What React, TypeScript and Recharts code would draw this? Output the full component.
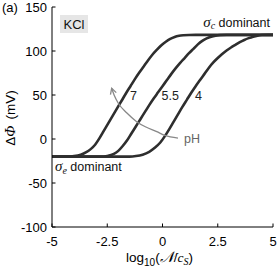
import React from 'react';
import { LineChart, Line, XAxis, YAxis } from 'recharts';

const xTicks = [-5, -2.5, 0, 2.5, 5];
const yTicks = [-100, -50, 0, 50, 100, 150];

// pH = 7 curve
const curvePH7 = [
  { x: -5, y: -20 }, { x: -4.3, y: -20 }, { x: -4.0, y: -19.4 }, { x: -3.7, y: -17.8 },
  { x: -3.45, y: -15 }, { x: -3.25, y: -11.5 }, { x: -3.05, y: -6.5 }, { x: -2.85, y: 1 },
  { x: -2.65, y: 9.5 }, { x: -2.45, y: 18 }, { x: -2.25, y: 26.5 }, { x: -2.05, y: 35 },
  { x: -1.85, y: 43.5 }, { x: -1.65, y: 52 }, { x: -1.45, y: 60 }, { x: -1.25, y: 68 },
  { x: -1.05, y: 75.5 }, { x: -0.85, y: 82.5 }, { x: -0.65, y: 89.5 }, { x: -0.45, y: 96 },
  { x: -0.25, y: 101.5 }, { x: -0.05, y: 106.5 }, { x: 0.15, y: 110.5 }, { x: 0.35, y: 113.7 },
  { x: 0.55, y: 116 }, { x: 0.75, y: 117.3 }, { x: 0.95, y: 117.9 }, { x: 1.2, y: 118.2 },
  { x: 1.5, y: 118.3 }, { x: 5, y: 118.3 },
];

// pH = 5.5 curve
const curvePH55 = [
  { x: -5, y: -20 }, { x: -2.8, y: -20 }, { x: -2.5, y: -19.3 }, { x: -2.2, y: -17 },
  { x: -2.0, y: -13.5 }, { x: -1.8, y: -8 }, { x: -1.6, y: -1.5 }, { x: -1.4, y: 6.5 },
  { x: -1.2, y: 14.5 }, { x: -1.0, y: 22.5 }, { x: -0.8, y: 30.5 }, { x: -0.6, y: 38.5 },
  { x: -0.4, y: 46 }, { x: -0.2, y: 53 }, { x: 0, y: 60 }, { x: 0.2, y: 67 },
  { x: 0.4, y: 74 }, { x: 0.6, y: 80.5 }, { x: 0.8, y: 86.5 }, { x: 1.0, y: 92 },
  { x: 1.2, y: 97.5 }, { x: 1.4, y: 102.5 }, { x: 1.6, y: 107.5 }, { x: 1.8, y: 111.5 },
  { x: 2.0, y: 114.3 }, { x: 2.2, y: 116.2 }, { x: 2.4, y: 117.4 }, { x: 2.6, y: 118 },
  { x: 2.9, y: 118.3 }, { x: 5, y: 118.3 },
];

// pH = 4 curve
const curvePH4 = [
  { x: -5, y: -20 }, { x: -1.5, y: -20 }, { x: -1.2, y: -19.4 }, { x: -0.9, y: -17.8 },
  { x: -0.6, y: -14.5 }, { x: -0.35, y: -10 }, { x: -0.1, y: -4 }, { x: 0.1, y: 3 },
  { x: 0.3, y: 11 }, { x: 0.5, y: 19.5 }, { x: 0.7, y: 28 }, { x: 0.9, y: 36.5 },
  { x: 1.1, y: 44.5 }, { x: 1.3, y: 52.5 }, { x: 1.5, y: 60 }, { x: 1.7, y: 67 },
  { x: 1.9, y: 74 }, { x: 2.1, y: 81 }, { x: 2.3, y: 87 }, { x: 2.5, y: 92 },
  { x: 2.7, y: 96.5 }, { x: 2.9, y: 100.5 }, { x: 3.1, y: 104 }, { x: 3.3, y: 107 },
  { x: 3.5, y: 110 }, { x: 3.7, y: 112.5 }, { x: 3.9, y: 114.6 }, { x: 4.1, y: 116.3 },
  { x: 4.3, y: 117.5 }, { x: 4.5, y: 118.1 }, { x: 4.8, y: 118.3 }, { x: 5, y: 118.3 },
];

// gray "pH" arrow path (tip first)
const arrowPH = [
  { x: -2.3, y: 57.6 }, { x: -2.19, y: 50 }, { x: -2.0, y: 40.6 }, { x: -1.61, y: 29.5 },
  { x: -1.17, y: 19.7 }, { x: -0.75, y: 13.6 }, { x: -0.26, y: 8.3 }, { x: 0.11, y: 4.0 },
  { x: 0.7, y: 1.1 },
];

const curveLabels = ['7', '5.5', '4'];

const FONT = '"Liberation Sans", Arial, Helvetica, sans-serif';
const SERIF = '"Liberation Serif", "DejaVu Serif", serif';

const BottomTick = (p: any) => (
  <g>
    <line x1={p.x} x2={p.x} y1={p.y} y2={p.y - 3.5} stroke="#000" strokeWidth={1} />
    <text x={p.x} y={p.y + 19} textAnchor="middle" fontSize={13} fontFamily={FONT} fill="#000">
      {p.payload.value}
    </text>
  </g>
);
const TopTick = (p: any) => (
  <line x1={p.x} x2={p.x} y1={p.y} y2={p.y + 3.5} stroke="#000" strokeWidth={1} />
);
const LeftTick = (p: any) => (
  <g>
    <line x1={p.x} x2={p.x + 3.5} y1={p.y} y2={p.y} stroke="#000" strokeWidth={1} />
    <text x={p.x - 5} y={p.y + 4.6} textAnchor="end" fontSize={13} fontFamily={FONT} fill="#000">
      {p.payload.value}
    </text>
  </g>
);
const RightTick = (p: any) => (
  <line x1={p.x} x2={p.x - 3.5} y1={p.y} y2={p.y} stroke="#000" strokeWidth={1} />
);

const ArrowDot = (p: any) => {
  if (p.index !== 0) return <g key={`ad${p.index}`} />;
  const { cx, cy } = p;
  return (
    <polyline
      key="arrowhead"
      points={`${cx - 1.2},${cy + 6.2} ${cx},${cy} ${cx + 4.6},${cy + 4.3}`}
      fill="none"
      stroke="#888"
      strokeWidth={1.3}
    />
  );
};

export default function App() {
  const lineStyle = { stroke: '#2e2e2e', strokeWidth: 2.6 };
  return (
    <div style={{ position: 'absolute', left: 0, top: 0, width: 277, height: 275, background: '#fff' }}>
      <LineChart width={277} height={275} margin={{ top: 7, right: 4, bottom: 0, left: 0 }}>
        <XAxis
          xAxisId="b"
          dataKey="x"
          type="number"
          domain={[-5, 5]}
          ticks={xTicks}
          interval={0}
          height={48}
          tickSize={0}
          tickMargin={0}
          tick={BottomTick}
          axisLine={{ stroke: '#000', strokeWidth: 1 }}
        />
        <XAxis
          xAxisId="t"
          orientation="top"
          dataKey="x"
          type="number"
          domain={[-5, 5]}
          ticks={xTicks}
          interval={0}
          height={0}
          tickSize={0}
          tickMargin={0}
          tick={TopTick}
          axisLine={{ stroke: '#000', strokeWidth: 1 }}
        />
        <YAxis
          yAxisId="l"
          type="number"
          domain={[-100, 150]}
          ticks={yTicks}
          interval={0}
          width={52}
          tickSize={0}
          tickMargin={0}
          tick={LeftTick}
          axisLine={{ stroke: '#000', strokeWidth: 1 }}
        />
        <YAxis
          yAxisId="r"
          orientation="right"
          type="number"
          domain={[-100, 150]}
          ticks={yTicks}
          interval={0}
          width={0}
          tickSize={0}
          tickMargin={0}
          tick={RightTick}
          axisLine={{ stroke: '#000', strokeWidth: 1 }}
        />
        <Line xAxisId="b" yAxisId="l" data={curvePH7} dataKey="y" type="monotone" dot={false} activeDot={false} isAnimationActive={false} {...lineStyle} />
        <Line xAxisId="b" yAxisId="l" data={curvePH55} dataKey="y" type="monotone" dot={false} activeDot={false} isAnimationActive={false} {...lineStyle} />
        <Line xAxisId="b" yAxisId="l" data={curvePH4} dataKey="y" type="monotone" dot={false} activeDot={false} isAnimationActive={false} {...lineStyle} />
        <Line xAxisId="t" yAxisId="r" data={arrowPH} dataKey="y" type="monotone" dot={ArrowDot} activeDot={false} isAnimationActive={false} stroke="#888" strokeWidth={1.3} />
      </LineChart>
      <svg width={277} height={275} style={{ position: 'absolute', left: 0, top: 0, pointerEvents: 'none' }}>
        <text x={2} y={12} fontSize={13} fontFamily={FONT} fill="#000">(a)</text>
        <rect x={60} y={15} width={28} height={18} fill="#e6e6e6" />
        <text x={74} y={29} textAnchor="middle" fontSize={13} fontFamily={FONT} fill="#111">KCl</text>
        <text x={270} y={26.5} textAnchor="end" fontSize={12.5} fontFamily={FONT} fill="#111">
          <tspan fontFamily={SERIF} fontStyle="italic" fontSize={15}>σ</tspan>
          <tspan fontFamily={SERIF} fontStyle="italic" fontSize={10} dy={2.5}>c</tspan>
          <tspan dy={-2.5}> dominant</tspan>
        </text>
        <text x={55} y={171} fontSize={12.5} fontFamily={FONT} fill="#111">
          <tspan fontFamily={SERIF} fontStyle="italic" fontSize={15}>σ</tspan>
          <tspan fontFamily={SERIF} fontStyle="italic" fontSize={10} dy={2.5}>e</tspan>
          <tspan dy={-2.5}> dominant</tspan>
        </text>
        <text x={130} y={100} fontSize={12.5} fontFamily={FONT} fill="#222">{curveLabels[0]}</text>
        <text x={161.5} y={100} fontSize={12.5} fontFamily={FONT} fill="#222">{curveLabels[1]}</text>
        <text x={195} y={100} fontSize={12.5} fontFamily={FONT} fill="#222">{curveLabels[2]}</text>
        <text x={184} y={143} fontSize={12.5} fontFamily={FONT} fill="#666">pH</text>
        <text x={159.5} y={262} textAnchor="middle" fontSize={13.5} fontFamily={FONT} fill="#000">
          log<tspan fontSize={10} dy={3.5}>10</tspan>
          <tspan dy={-3.5}>(</tspan>
          <tspan fontFamily={SERIF} fontStyle="italic" fontSize={15}>𝒩</tspan>
          <tspan>/</tspan>
          <tspan fontFamily={SERIF} fontStyle="italic">c</tspan>
          <tspan fontFamily={SERIF} fontStyle="italic" fontSize={10} dy={3}>S</tspan>
          <tspan dy={-3}>)</tspan>
        </text>
        <text
          x={0}
          y={0}
          transform="translate(14.5,118) rotate(-90)"
          textAnchor="middle"
          fontSize={13.5}
          fontFamily={FONT}
          fill="#000"
        >
          Δ<tspan fontFamily={SERIF} fontStyle="italic" fontSize={14.5}>Φ</tspan>
          <tspan dx={6}>(mV)</tspan>
        </text>
      </svg>
    </div>
  );
}
